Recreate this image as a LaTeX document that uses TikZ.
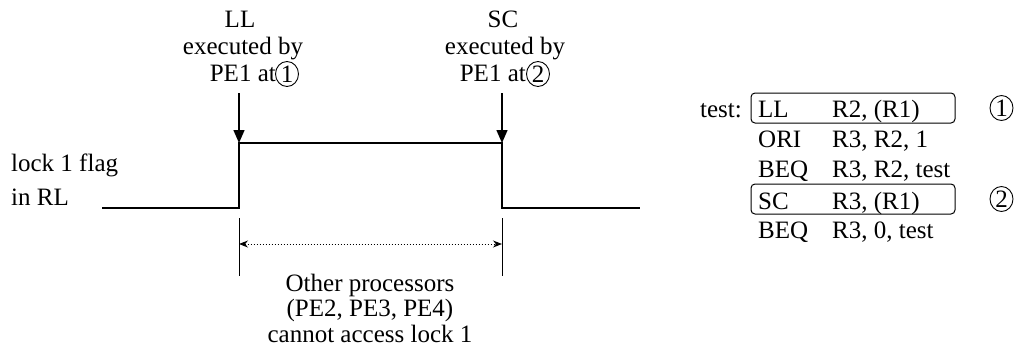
\documentclass[tikz,border=0pt]{standalone}
\usepackage{fontspec}
\setmainfont{Liberation Serif}
\usetikzlibrary{arrows.meta,shapes.geometric}

\tikzset{
  txt/.style={inner sep=0pt,font=\fontsize{25}{27}\selectfont},
  num/.style={ellipse,draw,line width=0.9pt,inner sep=0pt,minimum width=23pt,minimum height=25pt,font=\fontsize{25}{27}\selectfont},
  codebox/.style={draw,line width=1pt,rounded corners=4pt,minimum width=204pt,minimum height=30pt},
  signal/.style={line width=2.4pt},
  drop/.style={line width=1.4pt,-{Triangle[length=13pt,width=11pt]}},
  marker/.style={line width=1pt},
  spanarrow/.style={dotted,line width=1pt,{Stealth[length=9pt,width=7pt]}-{Stealth[length=9pt,width=7pt]}}
}

\begin{document}
\begin{tikzpicture}[x=1pt,y=-1pt]
\useasboundingbox (0,0) rectangle (1021,349);

% the flag signal
\coordinate (start) at (102,208);
\coordinate (lllow) at (239,208);
\coordinate (llup) at (239,143);
\coordinate (scup) at (502,143);
\coordinate (sclow) at (502,208);
\coordinate (stop) at (640,208);
\draw[signal] (start) -- (lllow) -- (llup) -- (scup) -- (sclow) -- (stop);
\node[txt,align=left,anchor=west,font=\fontsize{25}{34}\selectfont] (flag) at (11,180) {lock 1 flag\\in RL};

% LL executed
\node[txt,anchor=base] (llname) at (240,27) {LL};
\node[txt,anchor=base] (llexec) at (243,54) {executed by};
\node[txt,anchor=base east] (llpe) at (276,81) {PE1 at};
\node[num] (llnum) at (287,74) {1};
\coordinate (lltail) at (239,93);
\draw[drop] (lltail) -- (llup);

% SC executed
\node[txt,anchor=base] (scname) at (503,27) {SC};
\node[txt,anchor=base] (scexec) at (505,54) {executed by};
\node[txt,anchor=base east] (scpe) at (526,81) {PE1 at};
\node[num] (scnum) at (538,74) {2};
\coordinate (sctail) at (502,93);
\draw[drop] (sctail) -- (scup);

% locked interval
\coordinate (lltop) at (239,218);
\coordinate (llbot) at (239,276);
\coordinate (sctop) at (502,218);
\coordinate (scbot) at (502,276);
\draw[marker] (lltop) -- (llbot);
\draw[marker] (sctop) -- (scbot);
\coordinate (llmid) at (239,244);
\coordinate (scmid) at (502,244);
\draw[spanarrow] (llmid) -- (scmid);
\node[txt,align=center,font=\fontsize{25}{25.5}\selectfont] (others) at (370,308) {Other processors\\(PE2, PE3, PE4)\\cannot access lock 1};

% code
\node[codebox] (llbox) at (853,108) {};
\node[codebox] (scbox) at (853,199) {};
\node[txt,anchor=base east] (label) at (742,117) {test:};
\foreach \op/\arg/\y [count=\i] in {LL/{R2, (R1)}/117,ORI/{R3, R2, 1}/147,BEQ/{R3, R2, test}/177,SC/{R3, (R1)}/209,BEQ/{R3, 0, test}/238}{
  \node[txt,anchor=base west] (op\i) at (758,\y) {\op};
  \node[txt,anchor=base west] (arg\i) at (832,\y) {\arg};
}
\node[num] (one) at (1001.5,108) {1};
\node[num] (two) at (1001.5,199) {2};
\end{tikzpicture}
\end{document}
